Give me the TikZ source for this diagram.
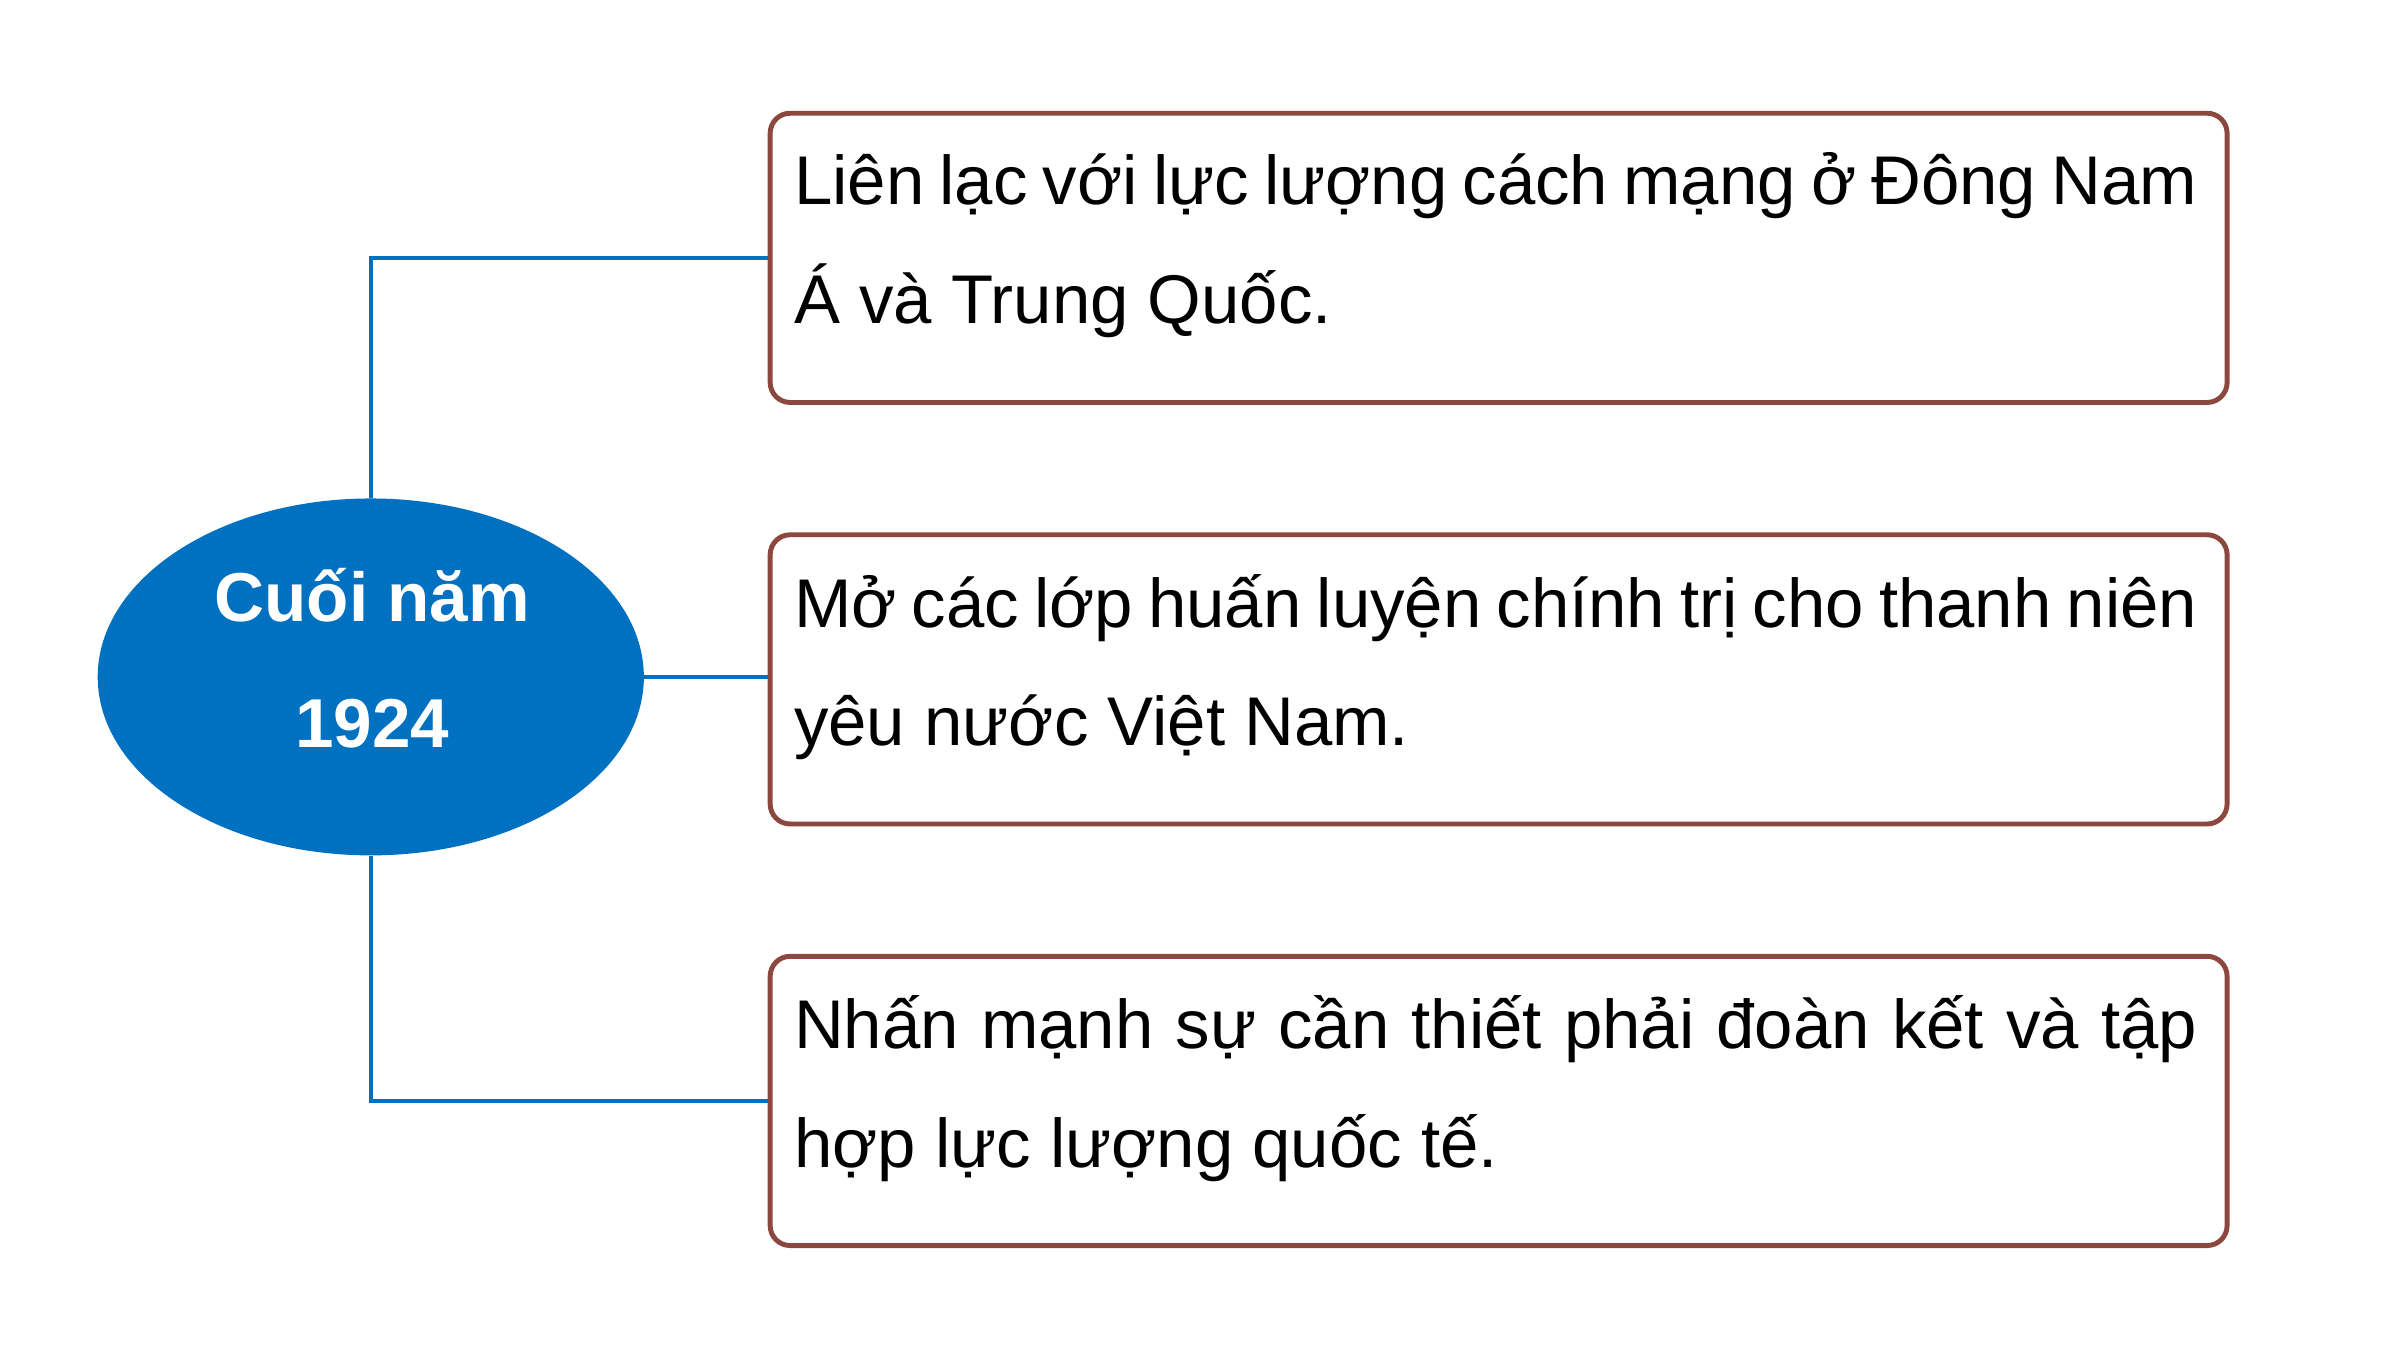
\documentclass[tikz,border=0pt]{standalone}
\usepackage{fontspec}
\setmainfont{Liberation Sans}
\usetikzlibrary{shapes.geometric}
\definecolor{evblue}{RGB}{0,112,192}
\definecolor{boxred}{RGB}{140,72,62}
\begin{document}
\begin{tikzpicture}[x=1pt,y=-1pt,
  infobox/.style={draw=boxred,line width=3.2pt,rounded corners=13pt,minimum width=947pt,minimum height=188pt,anchor=north west,inner sep=0pt},
  infotext/.style={anchor=north west,inner sep=0pt,text width=912pt,align=justify,font=\fontsize{44.8}{77}\selectfont},
  link/.style={draw=evblue,line width=2.8pt},
  evtext/.style={anchor=base,inner sep=0pt,text=white,font=\fontsize{45}{54}\selectfont\bfseries}]
\useasboundingbox (0,0) rectangle (1560,877.5);
\fill[white] (0,0) rectangle (1560,877.5);
% boxes
\node[infobox] (b1) at (499,72) {};
\node[infobox] (b2) at (499,346) {};
\node[infobox] (b3) at (499,620) {};
% ellipse
\node[ellipse,fill=evblue,minimum width=355pt,minimum height=232pt,inner sep=0pt] (ev) at (241,440) {};
\node[evtext] (ev1) at (242,404) {Cuối năm};
\node[evtext] (ev2) at (242,486) {1924};
% connectors
\draw[link] (ev.north) |- (b1.west);
\draw[link] (ev.east) -- (ev.east -| b2.west);
\draw[link] (ev.south) |- (b3.west);
% texts
\node[infotext] (t1) at (516,99) {\rule{0pt}{33pt}Liên lạc với lực lượng cách mạng ở Đông Nam\linebreak Á và Trung Quốc.};
\node[infotext] (t2) at (516,373) {\rule{0pt}{33pt}Mở các lớp huấn luyện chính trị cho thanh niên\linebreak yêu nước Việt Nam.};
\node[infotext] (t3) at (516,647) {\rule{0pt}{33pt}Nhấn mạnh sự cần thiết phải đoàn kết và tập\linebreak hợp lực lượng quốc tế.};
\end{tikzpicture}
\end{document}
